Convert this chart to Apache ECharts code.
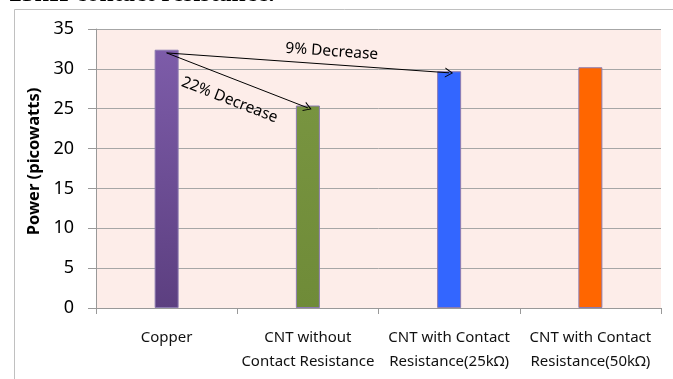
<!DOCTYPE html>
<html><head><meta charset="utf-8">
<script src="https://cdn.jsdelivr.net/npm/echarts@6/dist/echarts.min.js"></script>
<style>html,body{margin:0;padding:0;background:#fff}#c{width:673px;height:379px}</style>
</head><body><div id="c"></div>
<script>
const categories = ['Copper', 'CNT without\nContact Resistance', 'CNT with Contact\nResistance(25kΩ)', 'CNT with Contact\nResistance(50kΩ)'];
const powerValues = [32.4, 25.4, 29.7, 30.2];
const yTicks = [0, 5, 10, 15, 20, 25, 30, 35];
const arrowFrom = 32.0;
const arrowTo = [25.1, 29.5];
const arrowLabels = ['22% Decrease', '9% Decrease'];

const barColors = [
  ['#7D5CA9', '#5C3F80'],
  ['#789440', '#6F8B38'],
  ['#3366FF', '#3366FF'],
  ['#FF6600', '#FF6600']
];
const FONT = '"Noto Sans", "Open Sans", sans-serif';
const chart = echarts.init(document.getElementById('c'), null, {renderer: 'canvas'});
const chevron = 'path://M0,12 L6,0 L12,12 L10.6,12 L6,2.6 L1.4,12 Z';

chart.setOption({
  animation: false,
  backgroundColor: '#fff',
  grid: {left: 96, right: 12, top: 29, bottom: 71, show: true, backgroundColor: '#FDEDE9', borderWidth: 0},
  graphic: [
    {type: 'rect', shape: {x: 14.5, y: 9.5, width: 700, height: 400}, style: {fill: 'none', stroke: '#C0C0C0', lineWidth: 1}, z: -10},
    {type: 'text', x: 9, y: 7.5, z: 100, style: {text: '25kΩ contact resistance.', font: 'bold 25.5px "Liberation Serif", serif', fill: '#000', verticalAlign: 'bottom'}}
  ],
  xAxis: {
    type: 'category', data: categories,
    axisLine: {show: true, lineStyle: {color: '#999', width: 1}},
    axisTick: {show: true, interval: 0, length: 6, lineStyle: {color: '#999'}},
    axisLabel: {interval: 0, color: '#111', fontSize: 15, fontFamily: FONT, lineHeight: 24, margin: 18},
    splitLine: {show: false}
  },
  yAxis: {
    type: 'value', min: 0, max: 35, interval: 5,
    name: 'Power (picowatts)', nameLocation: 'middle', nameGap: 44,
    nameTextStyle: {fontWeight: 'bold', fontSize: 16.5, fontFamily: FONT, color: '#000', padding: [0, 0, 0, 14]},
    axisLine: {show: true, lineStyle: {color: '#999'}},
    axisTick: {show: true, length: 8, lineStyle: {color: '#999'}},
    axisLabel: {color: '#000', fontSize: 18, fontFamily: FONT, margin: 22,
      formatter: v => yTicks.includes(v) ? String(v) : ''},
    splitLine: {show: true, lineStyle: {color: '#A6A6A6', width: 1}}
  },
  series: [{
    type: 'bar', barWidth: 24,
    data: powerValues.map((v, i) => ({
      value: v,
      itemStyle: {
        color: new echarts.graphic.LinearGradient(0, 0, 0, 1, [
          {offset: 0, color: barColors[i][0]}, {offset: 1, color: barColors[i][1]}
        ]),
        borderColor: '#8C7BB0', borderWidth: 1
      }
    })),
    markLine: {
      silent: true,
      symbol: ['none', chevron],
      symbolSize: [10, 8],
      lineStyle: {color: '#000', width: 1, type: 'solid'},
      label: {show: true, color: '#000', fontSize: 15.5, fontFamily: FONT},
      data: [
        [{coord: [0, arrowFrom]}, {coord: [1, arrowTo[0]], label: {formatter: arrowLabels[0], position: 'insideMiddleBottom', distance: 13}}],
        [{coord: [0, arrowFrom]}, {coord: [2, arrowTo[1]], label: {formatter: arrowLabels[1], position: 'insideMiddleTop', distance: 5, padding: [0, 0, 0, 46]}}]
      ]
    }
  }]
});
</script></body></html>
